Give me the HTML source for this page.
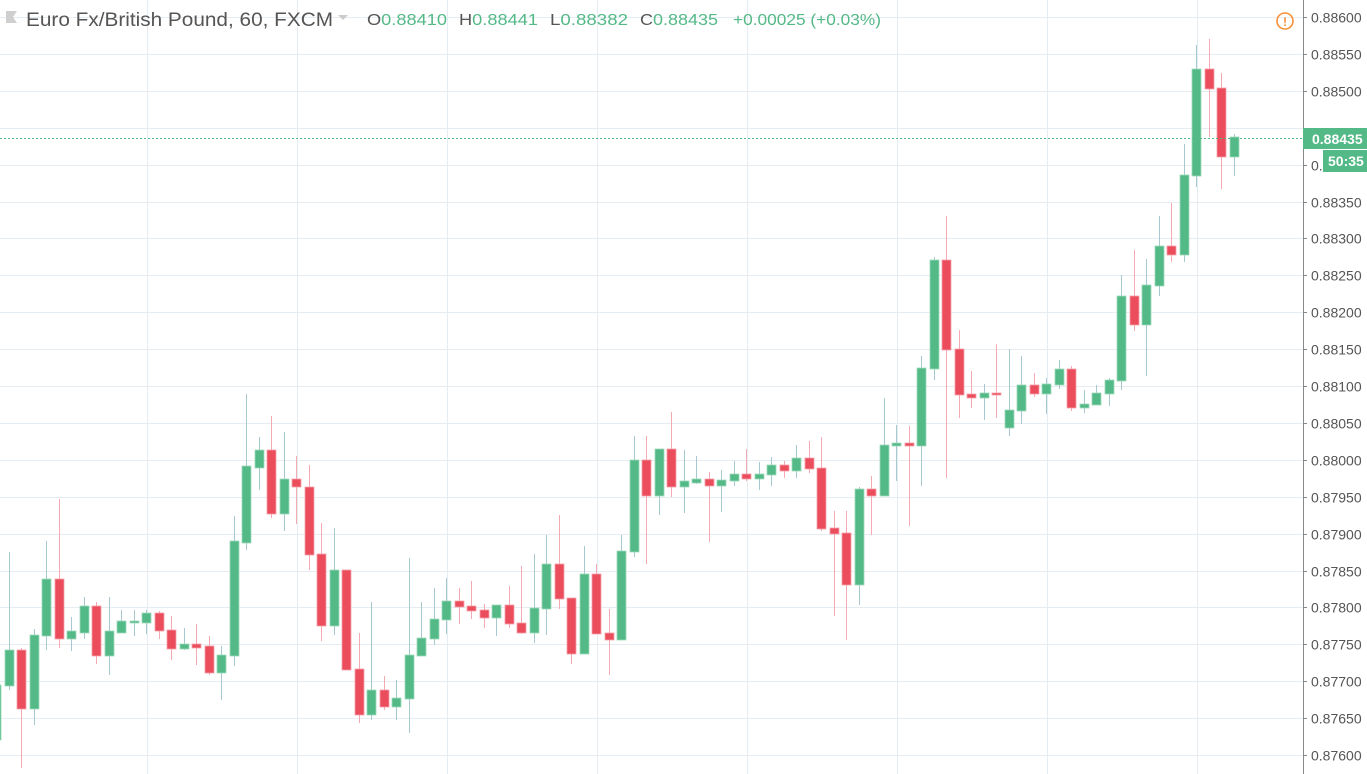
<!DOCTYPE html>
<html><head><meta charset="utf-8"><style>
html,body{margin:0;padding:0;background:#fff;width:1367px;height:774px;overflow:hidden}
svg{display:block}
text{font-family:"Liberation Sans","DejaVu Sans",sans-serif}
</style></head><body>
<svg id="s" width="1367" height="774" xmlns="http://www.w3.org/2000/svg">
<g id="grid"></g>
<g id="candles"></g>
<line x1="0" y1="138.5" x2="1303" y2="138.5" stroke="#53b987" stroke-width="1" stroke-dasharray="2,2"/>
<line x1="1303.5" y1="0" x2="1303.5" y2="774" stroke="#888" stroke-width="1"/>
<g id="axis"></g>
<rect x="1303" y="128" width="64" height="21" fill="#53b987"/>
<text x="1312" y="144" font-size="14" fill="#fff" font-weight="bold">0.88435</text>
<rect x="1323" y="150" width="44" height="22" fill="#53b987"/>
<text x="1328" y="166" font-size="14" fill="#fff" font-weight="bold">50:35</text>
<circle cx="1285" cy="21" r="8" fill="none" stroke="#f7913a" stroke-width="1.6"/>
<text x="1285" y="26" font-size="12" fill="#f7913a" text-anchor="middle" font-weight="bold">!</text>
<polygon points="6,11 17,11 13,17 17,23 6,23" fill="#cfcfcf"/>
<text x="26" y="26" font-size="19" fill="#555" textLength="307" lengthAdjust="spacingAndGlyphs">Euro Fx/British Pound, 60, FXCM</text>
<polygon points="338,15 348,15 343,20" fill="#ccc"/>
<text x="367" y="25" font-size="16" fill="#555" textLength="80" lengthAdjust="spacingAndGlyphs">O<tspan fill="#53b987">0.88410</tspan></text>
<text x="459" y="25" font-size="16" fill="#555" textLength="79" lengthAdjust="spacingAndGlyphs">H<tspan fill="#53b987">0.88441</tspan></text>
<text x="550" y="25" font-size="16" fill="#555" textLength="78" lengthAdjust="spacingAndGlyphs">L<tspan fill="#53b987">0.88382</tspan></text>
<text x="640" y="25" font-size="16" fill="#555" textLength="78" lengthAdjust="spacingAndGlyphs">C<tspan fill="#53b987">0.88435</tspan></text>
<text x="733" y="25" font-size="16" fill="#53b987" textLength="148" lengthAdjust="spacingAndGlyphs">+0.00025 (+0.03%)</text>
</svg>
<script>
var NS="http://www.w3.org/2000/svg";
function el(p,t,a){var e=document.createElementNS(NS,t);for(var k in a)e.setAttribute(k,a[k]);p.appendChild(e);return e;}
var g=document.getElementById('grid'),ax=document.getElementById('axis');
for(var k=0;k<=20;k++){var y=Math.round(17+36.9*k)+0.5;
 el(g,'line',{x1:0,y1:y,x2:1303,y2:y,stroke:'#e6edf2','stroke-width':1});
 el(ax,'line',{x1:1303,y1:y,x2:1307,y2:y,stroke:'#888','stroke-width':1});
 if(k==3||k==4)continue;
 var t=el(ax,'text',{x:1311,y:y+5,'font-size':14,fill:'#555'});t.textContent=(0.886-0.0005*k).toFixed(5);}
var t4=el(ax,'text',{x:1311,y:Math.round(17+36.9*4)+5.5,'font-size':14,fill:'#555'});t4.textContent='0.';
for(var x=147.5;x<1303;x+=150)el(g,'line',{x1:x,y1:0,x2:x,y2:774,stroke:'#e6edf2','stroke-width':1});
var C=[[740,685,660,760],
[686,650,552,690],[650,709,648,768],[709,635,629,725],[636,579,541,650],[579,639,499,648],[639,631,617,651],[633,606,597,639],[606,656,602,664],[656,631,597,675],[633,621,610,633],
[623,621,610,636],[623,613,610,634],[613,631,611,639],[630,649,616,660],[649,644,628,650],[644,648,624,665],[646,673,636,675],[673,655,646,700],[656,541,516,666],[543,466,394,550],
[468,450,437,490],[450,514,416,518],[514,479,432,531],[479,487,456,524],[487,555,465,570],[554,626,523,641],[626,570,528,635],[570,670,570,670],[669,715,633,723],[715,690,602,720],
[690,707,676,710],[707,698,680,720],[699,655,558,733],[656,638,602,656],[639,619,588,645],[620,601,578,634],[601,607,588,624],[606,611,581,619],[610,618,604,628],[618,605,605,636],
[605,624,586,628],[623,633,566,634],[633,608,554,643],[609,564,535,635],[564,599,515,609],[598,654,598,664],[654,574,546,654],[574,634,564,634],[633,640,609,675],[640,551,535,640],
[552,460,436,557],[460,496,436,564],[496,449,449,515],[449,487,412,497],[487,481,450,513],[483,479,456,484],[479,486,472,542],[486,480,470,512],[481,474,461,486],[474,479,449,481],
[479,474,462,490],[475,465,457,486],[465,471,461,478],[471,458,445,478],[458,469,441,473],[468,529,437,531],[528,534,511,616],[533,585,511,640],[585,489,487,605],[489,496,476,535],
[496,445,398,496],[446,443,425,481],[443,446,426,526],[446,368,356,486],[369,260,257,380],[260,350,216,478],[349,395,330,418],[394,398,371,408],[398,393,384,420],[393,395,344,418],
[428,410,349,436],[411,385,356,424],[385,394,373,397],[394,384,378,414],[385,369,360,389],[369,408,366,411],[408,404,390,413],[405,393,385,405],[394,380,378,406],[381,296,275,390],
[296,325,250,331],[325,285,259,376],[286,246,216,296],[246,255,203,262],[255,175,144,262],[176,69,45,187],[69,89,39,137],[88,157,73,189],[157,137,134,176]];
var cg=document.getElementById('candles');
for(var i=0;i<C.length;i++){var c=C[i];var cx=8.7+12.5*(i-1);var up=c[1]<c[0];
 var bt=Math.min(c[0],c[1]),bb=Math.max(c[0],c[1]);if(bb-bt<2)bb=bt+2;
 var xc=Math.round(cx)+0.5;
 el(cg,'line',{x1:xc,y1:c[2],x2:xc,y2:c[3],stroke:up?'#a6c8cf':'#f5a9b2','stroke-width':1});
 el(cg,'rect',{x:Math.round(cx)-4,y:bt,width:9,height:bb-bt,fill:up?'#53b987':'#eb4d5c',stroke:up?'#9fd9bc':'#f5a0aa','stroke-width':0.8});}
</script>
</body></html>
